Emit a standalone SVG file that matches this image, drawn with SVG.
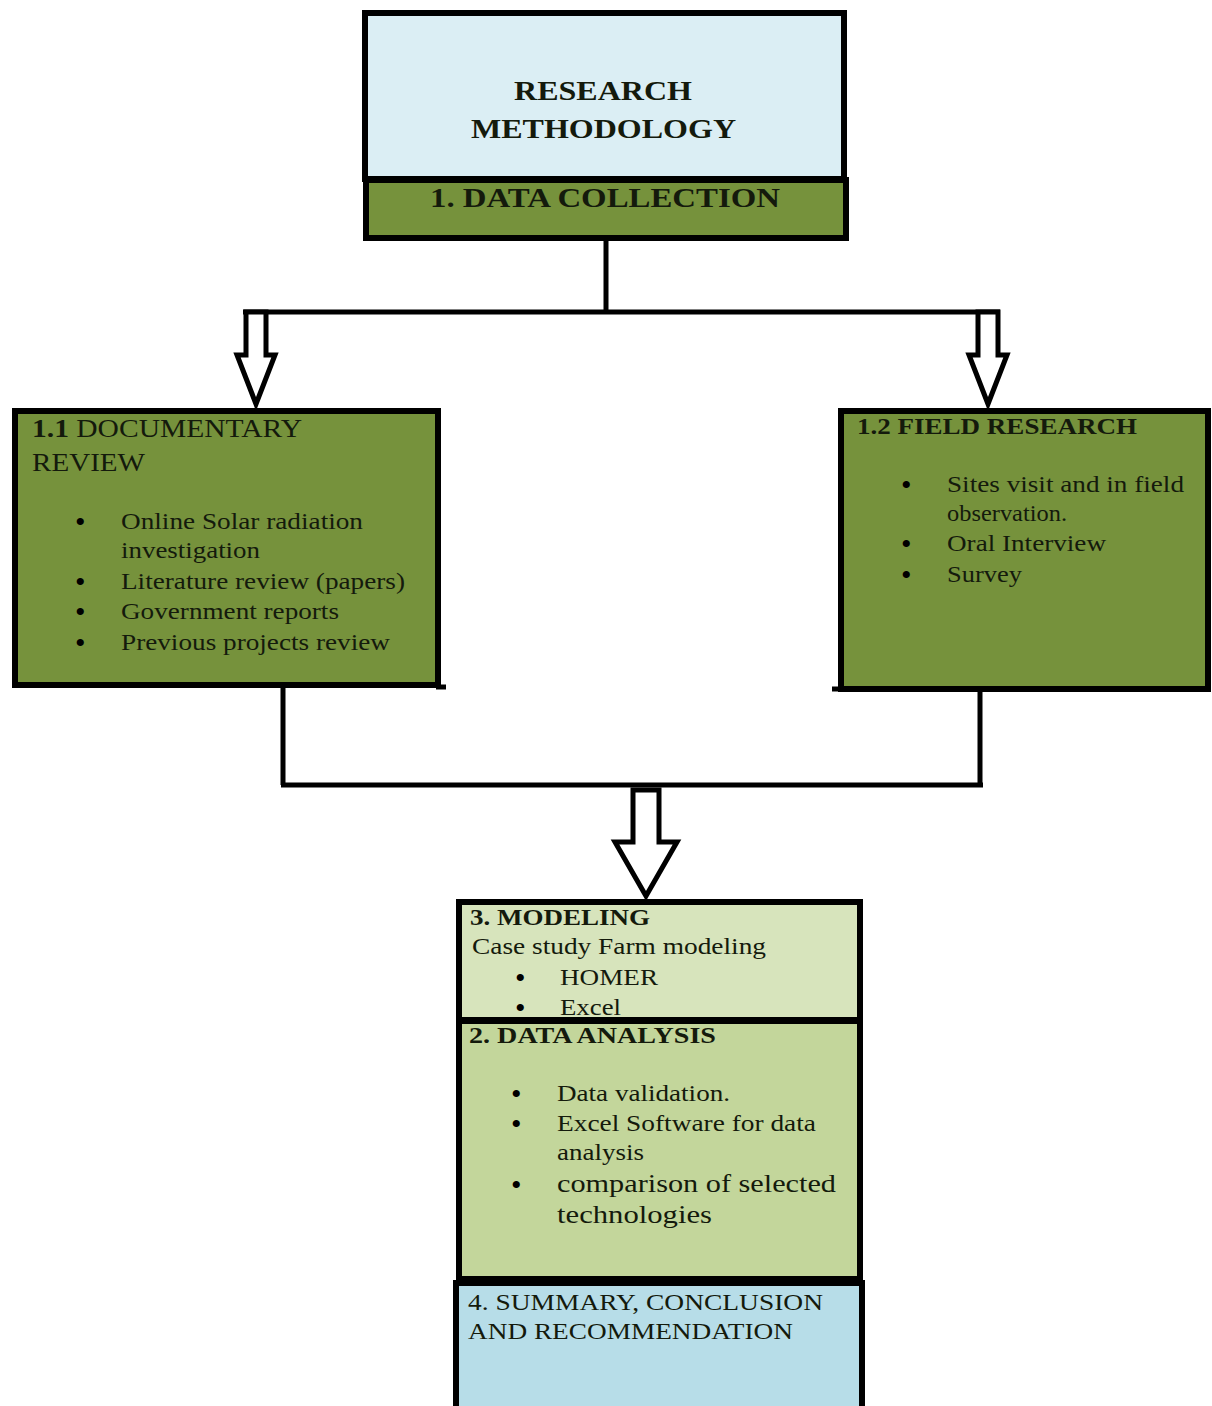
<svg xmlns="http://www.w3.org/2000/svg" width="1212" height="1406" viewBox="0 0 1212 1406">
<style>
.box{stroke:#000;stroke-width:6}
.t{font-family:"Liberation Serif","Times New Roman",serif;fill:#141a0c}
.b{font-weight:bold}
.ln{stroke:#000;stroke-width:5;fill:none}
.ar{stroke:#000;stroke-width:5;fill:#fff;stroke-linejoin:miter}
.bu{font-family:"Liberation Serif","Times New Roman",serif;fill:#000;font-size:30px}
</style>
<rect width="1212" height="1406" fill="#fff"/>
<g id="connectors">
<path class="ln" d="M606 240V312M243 312H1000"/>
<path class="ln" d="M283 688V785M980 692V785M281 785H983"/>
<polygon class="ar" points="246,312 266,312 266,355 275,355 256,404 237,355 246,355"/>
<polygon class="ar" points="978,312 998,312 998,355 1007,355 988,404 969,355 978,355"/>
<polygon class="ar" points="633,790 659,790 659,842 677,842 646,896 615,842 633,842"/>
</g>
<g id="research-methodology">
<rect class="box" x="365" y="13" width="479" height="166" fill="#dbeef4"/>
<text class="t b" x="514" y="100" font-size="28" textLength="178" lengthAdjust="spacingAndGlyphs">RESEARCH</text>
<text class="t b" x="471" y="138" font-size="28" textLength="265" lengthAdjust="spacingAndGlyphs">METHODOLOGY</text>
</g>
<g id="data-collection">
<rect class="box" x="366" y="180" width="480" height="58" fill="#76923c"/>
<text class="t b" x="430" y="207" font-size="28" textLength="350" lengthAdjust="spacingAndGlyphs">1. DATA COLLECTION</text>
</g>
<g id="documentary-review">
<rect class="box" x="15" y="411" width="423" height="274" fill="#76923c"/>
<path class="ln" d="M436 687H446"/>
<text class="t" x="32" y="437" font-size="25" textLength="270" lengthAdjust="spacingAndGlyphs"><tspan class="b">1.1</tspan> DOCUMENTARY</text>
<text class="t" x="32" y="471" font-size="25" textLength="113" lengthAdjust="spacingAndGlyphs">REVIEW</text>
<g class="t" font-size="23">
<text class="bu" x="75" y="532">•</text><text x="121" y="529" textLength="242" lengthAdjust="spacingAndGlyphs">Online Solar radiation</text>
<text x="121" y="558" textLength="139" lengthAdjust="spacingAndGlyphs">investigation</text>
<text class="bu" x="75" y="592">•</text><text x="121" y="589" textLength="284" lengthAdjust="spacingAndGlyphs">Literature review (papers)</text>
<text class="bu" x="75" y="622">•</text><text x="121" y="619" textLength="218" lengthAdjust="spacingAndGlyphs">Government reports</text>
<text class="bu" x="75" y="653">•</text><text x="121" y="650" textLength="269" lengthAdjust="spacingAndGlyphs">Previous projects review</text>
</g>
</g>
<g id="field-research">
<rect class="box" x="841" y="411" width="367" height="278" fill="#76923c"/>
<path class="ln" d="M832 689H843"/>
<text class="t b" x="857" y="434" font-size="23" textLength="280" lengthAdjust="spacingAndGlyphs">1.2 FIELD RESEARCH</text>
<g class="t" font-size="23">
<text class="bu" x="901" y="495">•</text><text x="947" y="492" textLength="237" lengthAdjust="spacingAndGlyphs">Sites visit and in field</text>
<text x="947" y="521" textLength="120" lengthAdjust="spacingAndGlyphs">observation.</text>
<text class="bu" x="901" y="554">•</text><text x="947" y="551" textLength="159" lengthAdjust="spacingAndGlyphs">Oral Interview</text>
<text class="bu" x="901" y="585">•</text><text x="947" y="582" textLength="75" lengthAdjust="spacingAndGlyphs">Survey</text>
</g>
</g>
<g id="modeling">
<rect class="box" x="459" y="902" width="401" height="118" fill="#d7e4bc"/>
<text class="t b" x="470" y="925" font-size="23" textLength="180" lengthAdjust="spacingAndGlyphs">3. MODELING</text>
<g class="t" font-size="23">
<text x="472" y="954" textLength="294" lengthAdjust="spacingAndGlyphs">Case study Farm modeling</text>
<text class="bu" x="515" y="988">•</text><text x="560" y="985" textLength="98" lengthAdjust="spacingAndGlyphs">HOMER</text>
<text class="bu" x="515" y="1018">•</text><text x="560" y="1015" textLength="61" lengthAdjust="spacingAndGlyphs">Excel</text>
</g>
</g>
<g id="data-analysis">
<rect class="box" x="459" y="1021" width="401" height="258" fill="#c3d69b"/>
<text class="t b" x="469" y="1043" font-size="23" textLength="247" lengthAdjust="spacingAndGlyphs">2. DATA ANALYSIS</text>
<g class="t" font-size="23">
<text class="bu" x="511" y="1104">•</text><text x="557" y="1101" textLength="173" lengthAdjust="spacingAndGlyphs">Data validation.</text>
<text class="bu" x="511" y="1134">•</text><text x="557" y="1131" textLength="259" lengthAdjust="spacingAndGlyphs">Excel Software for data</text>
<text x="557" y="1160" textLength="87" lengthAdjust="spacingAndGlyphs">analysis</text>
</g>
<g class="t" font-size="25">
<text class="bu" x="511" y="1195">•</text><text x="557" y="1192" textLength="279" lengthAdjust="spacingAndGlyphs">comparison of selected</text>
<text x="557" y="1223" textLength="155" lengthAdjust="spacingAndGlyphs">technologies</text>
</g>
</g>
<g id="summary">
<rect class="box" x="456" y="1283" width="406" height="126" fill="#b7dde8"/>
<g class="t" font-size="23">
<text x="468" y="1310" textLength="355" lengthAdjust="spacingAndGlyphs">4. SUMMARY, CONCLUSION</text>
<text x="468" y="1339" textLength="325" lengthAdjust="spacingAndGlyphs">AND RECOMMENDATION</text>
</g>
</g>
</svg>
